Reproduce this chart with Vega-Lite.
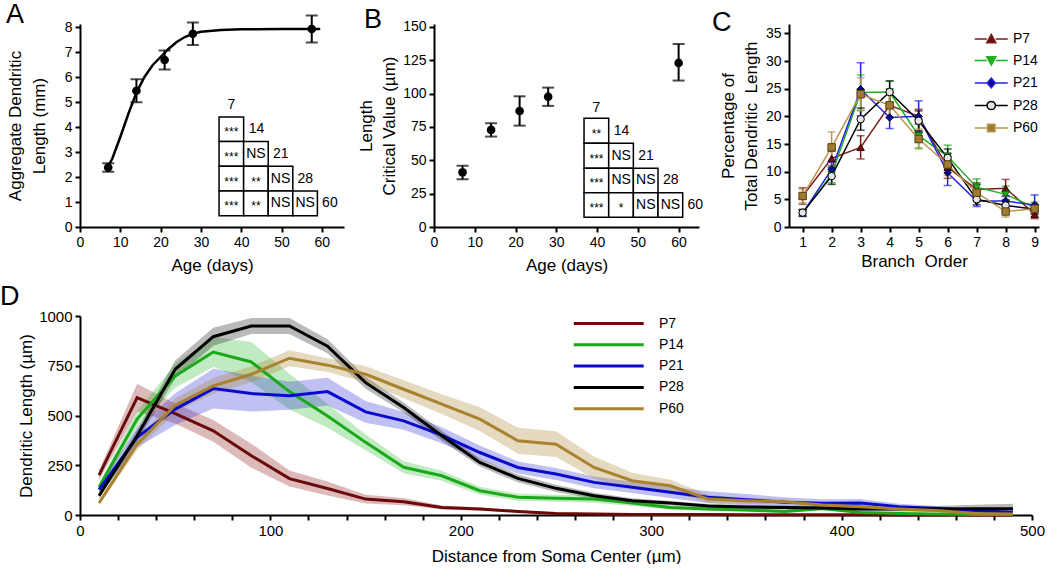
{
"$schema": "https://vega.github.io/schema/vega-lite/v6.json",
"background": "white",
"padding": {"left": 0, "top": 0, "right": 0, "bottom": 0},
"spacing": 10,
"config": {
  "font": "Liberation Sans",
  "view": {"stroke": null},
  "axis": {"domainColor": "#000", "domainWidth": 2, "tickColor": "#000", "tickWidth": 2, "tickSize": 5, "labelFontSize": 14, "labelColor": "#000", "labelFont": "Liberation Sans", "titleFont": "Liberation Sans", "titleFontSize": 17, "titleFontWeight": "normal", "titleColor": "#000", "grid": false, "labelPadding": 3, "titleLineHeight": 23, "labelOverlap": false, "labelFlush": false, "tickCount": 100, "format": "d"},
  "title": {"fontSize": 27, "fontWeight": "normal", "anchor": "start", "frame": "group", "font": "Liberation Sans", "color": "#000"},
  "legend": {"labelFont": "Liberation Sans", "labelFontSize": 14, "labelColor": "#000", "padding": 0, "title": null}
},
"vconcat": [
{
 "hconcat": [
 {
  "width": 264, "height": 203,
  "title": {"text": "A", "dx": -74, "offset": -14},
  "layer": [
   {"data": {"values": [
     {"x": 6.6, "y": 2.33}, {"x": 8, "y": 2.73}, {"x": 10, "y": 3.6}, {"x": 12, "y": 4.53}, {"x": 14, "y": 5.37},
     {"x": 16, "y": 6.0}, {"x": 18, "y": 6.47}, {"x": 20, "y": 6.8}, {"x": 22, "y": 7.13}, {"x": 24, "y": 7.4},
     {"x": 26, "y": 7.6}, {"x": 28, "y": 7.73}, {"x": 30, "y": 7.81}, {"x": 35, "y": 7.88}, {"x": 40, "y": 7.91},
     {"x": 50, "y": 7.92}, {"x": 59.6, "y": 7.92}]},
    "mark": {"type": "line", "color": "#000", "strokeWidth": 2.5},
    "encoding": {
      "x": {"field": "x", "type": "quantitative", "scale": {"domain": [0, 65.5], "nice": false}, "axis": {"values": [0, 10, 20, 30, 40, 50, 60], "format": "d", "tickCount": 100, "labelOverlap": false, "labelFlush": false, "title": "Age (days)", "titlePadding": 8}},
      "y": {"field": "y", "type": "quantitative", "scale": {"domain": [0, 8.12], "nice": false}, "axis": {"values": [0, 1, 2, 3, 4, 5, 6, 7, 8], "format": "d", "tickCount": 100, "labelOverlap": false, "labelFlush": false, "title": ["Aggregate Dendritic", "Length (mm)"], "titlePadding": 16, "titleLineHeight": 24}}
    }},
   {"data": {"values": [
     {"x": 7, "y": 2.38, "lo": 2.21, "hi": 2.55}, {"x": 14, "y": 5.45, "lo": 4.99, "hi": 5.91},
     {"x": 21, "y": 6.68, "lo": 6.3, "hi": 7.06}, {"x": 28, "y": 7.73, "lo": 7.28, "hi": 8.18},
     {"x": 57.5, "y": 7.92, "lo": 7.38, "hi": 8.46}]},
    "layer": [
     {"mark": {"type": "rule", "color": "#000", "strokeWidth": 2}, "encoding": {"x": {"field": "x", "type": "quantitative"}, "y": {"field": "lo", "type": "quantitative"}, "y2": {"field": "hi"}}},
     {"mark": {"type": "tick", "orient": "horizontal", "color": "#000", "size": 12, "thickness": 2}, "encoding": {"x": {"field": "x", "type": "quantitative"}, "y": {"field": "lo", "type": "quantitative"}}},
     {"mark": {"type": "tick", "orient": "horizontal", "color": "#000", "size": 12, "thickness": 2}, "encoding": {"x": {"field": "x", "type": "quantitative"}, "y": {"field": "hi", "type": "quantitative"}}},
     {"mark": {"type": "point", "filled": true, "color": "#000", "size": 75, "opacity": 1}, "encoding": {"x": {"field": "x", "type": "quantitative"}, "y": {"field": "y", "type": "quantitative"}}}
    ]},
   {"data": {"values": [
     {"x": 34.5, "x2": 40.6, "y": 3.42, "y2": 4.4},
     {"x": 34.5, "x2": 40.6, "y": 2.43, "y2": 3.42}, {"x": 40.6, "x2": 46.7, "y": 2.43, "y2": 3.42},
     {"x": 34.5, "x2": 40.6, "y": 1.44, "y2": 2.43}, {"x": 40.6, "x2": 46.7, "y": 1.44, "y2": 2.43}, {"x": 46.7, "x2": 52.8, "y": 1.44, "y2": 2.43},
     {"x": 34.5, "x2": 40.6, "y": 0.45, "y2": 1.44}, {"x": 40.6, "x2": 46.7, "y": 0.45, "y2": 1.44}, {"x": 46.7, "x2": 52.8, "y": 0.45, "y2": 1.44}, {"x": 52.8, "x2": 58.9, "y": 0.45, "y2": 1.44}]},
    "mark": {"type": "rect", "fill": "#fff", "stroke": "#000", "strokeWidth": 1.5},
    "encoding": {"x": {"field": "x", "type": "quantitative"}, "x2": {"field": "x2"}, "y": {"field": "y", "type": "quantitative"}, "y2": {"field": "y2"}}},
   {"data": {"values": [
     {"x": 37.55, "y": 3.91, "t": "***"},
     {"x": 37.55, "y": 2.925, "t": "***"}, {"x": 43.65, "y": 2.925, "t": "NS"},
     {"x": 37.55, "y": 1.935, "t": "***"}, {"x": 43.65, "y": 1.935, "t": "**"}, {"x": 49.75, "y": 1.935, "t": "NS"},
     {"x": 37.55, "y": 0.945, "t": "***"}, {"x": 43.65, "y": 0.945, "t": "**"}, {"x": 49.75, "y": 0.945, "t": "NS"}, {"x": 55.85, "y": 0.945, "t": "NS"},
     {"x": 37.55, "y": 4.87, "t": "7"}, {"x": 43.8, "y": 3.91, "t": "14"}, {"x": 49.8, "y": 2.925, "t": "21"}, {"x": 55.9, "y": 1.935, "t": "28"}, {"x": 62.0, "y": 0.945, "t": "60"}]},
    "layer": [
     {"transform": [{"filter": "indexof(datum.t, '*') < 0"}], "mark": {"type": "text", "fontSize": 14, "baseline": "middle", "align": "center", "color": "#000"},
      "encoding": {"x": {"field": "x", "type": "quantitative"}, "y": {"field": "y", "type": "quantitative"}, "text": {"field": "t"}}},
     {"transform": [{"filter": "indexof(datum.t, '*') >= 0"}], "mark": {"type": "text", "fontSize": 12, "baseline": "middle", "align": "center", "dy": 3, "color": "#000"},
      "encoding": {"x": {"field": "x", "type": "quantitative"}, "y": {"field": "y", "type": "quantitative"}, "text": {"field": "t"}}}
    ]}
  ]
 },
 {
  "width": 265, "height": 203,
  "title": {"text": "B", "dx": -70, "offset": -14},
  "layer": [
   {"data": {"values": [
     {"x": 7, "y": 41, "lo": 35.8, "hi": 46}, {"x": 14, "y": 72.8, "lo": 67.8, "hi": 77.8},
     {"x": 21, "y": 87, "lo": 76, "hi": 98}, {"x": 28, "y": 97.7, "lo": 90.8, "hi": 104.5},
     {"x": 60, "y": 123, "lo": 109.8, "hi": 137.2}]},
    "layer": [
     {"mark": {"type": "rule", "color": "#000", "strokeWidth": 2}, "encoding": {
       "x": {"field": "x", "type": "quantitative", "scale": {"domain": [0, 65], "nice": false}, "axis": {"values": [0, 10, 20, 30, 40, 50, 60], "format": "d", "tickCount": 100, "labelOverlap": false, "labelFlush": false, "title": "Age (days)", "titlePadding": 8}},
       "y": {"field": "lo", "type": "quantitative", "scale": {"domain": [0, 152.2], "nice": false}, "axis": {"values": [0, 25, 50, 75, 100, 125, 150], "format": "d", "tickCount": 100, "labelOverlap": false, "labelFlush": false, "title": ["Length", "Critical Value (µm)"], "titlePadding": 4}},
       "y2": {"field": "hi"}}},
     {"mark": {"type": "tick", "orient": "horizontal", "color": "#000", "size": 12, "thickness": 2}, "encoding": {"x": {"field": "x", "type": "quantitative"}, "y": {"field": "lo", "type": "quantitative"}}},
     {"mark": {"type": "tick", "orient": "horizontal", "color": "#000", "size": 12, "thickness": 2}, "encoding": {"x": {"field": "x", "type": "quantitative"}, "y": {"field": "hi", "type": "quantitative"}}},
     {"mark": {"type": "point", "filled": true, "color": "#000", "size": 75, "opacity": 1}, "encoding": {"x": {"field": "x", "type": "quantitative"}, "y": {"field": "y", "type": "quantitative"}}}
    ]},
   {"data": {"values": [
     {"x": 36.8, "x2": 42.85, "y": 62.75, "y2": 81.5},
     {"x": 36.8, "x2": 42.85, "y": 44, "y2": 62.75}, {"x": 42.85, "x2": 48.9, "y": 44, "y2": 62.75},
     {"x": 36.8, "x2": 42.85, "y": 25.75, "y2": 44}, {"x": 42.85, "x2": 48.9, "y": 25.75, "y2": 44}, {"x": 48.9, "x2": 54.95, "y": 25.75, "y2": 44},
     {"x": 36.8, "x2": 42.85, "y": 7.25, "y2": 25.75}, {"x": 42.85, "x2": 48.9, "y": 7.25, "y2": 25.75}, {"x": 48.9, "x2": 54.95, "y": 7.25, "y2": 25.75}, {"x": 54.95, "x2": 61.0, "y": 7.25, "y2": 25.75}]},
    "mark": {"type": "rect", "fill": "#fff", "stroke": "#000", "strokeWidth": 1.5},
    "encoding": {"x": {"field": "x", "type": "quantitative"}, "x2": {"field": "x2"}, "y": {"field": "y", "type": "quantitative"}, "y2": {"field": "y2"}}},
   {"data": {"values": [
     {"x": 39.85, "y": 72.1, "t": "**"},
     {"x": 39.85, "y": 53.4, "t": "***"}, {"x": 45.9, "y": 53.4, "t": "NS"},
     {"x": 39.85, "y": 34.9, "t": "***"}, {"x": 45.9, "y": 34.9, "t": "NS"}, {"x": 51.95, "y": 34.9, "t": "NS"},
     {"x": 39.85, "y": 16.5, "t": "***"}, {"x": 45.9, "y": 16.5, "t": "*"}, {"x": 51.95, "y": 16.5, "t": "NS"}, {"x": 58.0, "y": 16.5, "t": "NS"},
     {"x": 39.85, "y": 89, "t": "7"}, {"x": 46.0, "y": 72.1, "t": "14"}, {"x": 52.0, "y": 53.4, "t": "21"}, {"x": 58.1, "y": 34.9, "t": "28"}, {"x": 64.1, "y": 16.5, "t": "60"}]},
    "layer": [
     {"transform": [{"filter": "indexof(datum.t, '*') < 0"}], "mark": {"type": "text", "fontSize": 14, "baseline": "middle", "align": "center", "color": "#000"},
      "encoding": {"x": {"field": "x", "type": "quantitative"}, "y": {"field": "y", "type": "quantitative"}, "text": {"field": "t"}}},
     {"transform": [{"filter": "indexof(datum.t, '*') >= 0"}], "mark": {"type": "text", "fontSize": 12, "baseline": "middle", "align": "center", "dy": 3, "color": "#000"},
      "encoding": {"x": {"field": "x", "type": "quantitative"}, "y": {"field": "y", "type": "quantitative"}, "text": {"field": "t"}}}
    ]}
  ]
 },
 {
  "width": 250, "height": 203,
  "title": {"text": "C", "dx": -77, "offset": -13},
  "data": {"values": [
   {"s": "P7", "b": 1, "v": 5.6, "lo": 4.1, "hi": 7.1}, {"s": "P7", "b": 2, "v": 12.4, "lo": 11.1, "hi": 13.7}, {"s": "P7", "b": 3, "v": 14.4, "lo": 12.3, "hi": 16.5}, {"s": "P7", "b": 4, "v": 22.0, "lo": 19.8, "hi": 24.2}, {"s": "P7", "b": 5, "v": 20.0, "lo": 18.6, "hi": 21.3}, {"s": "P7", "b": 6, "v": 10.8, "lo": 8.8, "hi": 12.8}, {"s": "P7", "b": 7, "v": 6.8, "lo": 5.6, "hi": 8.0}, {"s": "P7", "b": 8, "v": 7.0, "lo": 5.5, "hi": 8.6}, {"s": "P7", "b": 9, "v": 2.3, "lo": 1.5, "hi": 3.1},
   {"s": "P14", "b": 1, "v": 2.5, "lo": 2.0, "hi": 3.0}, {"s": "P14", "b": 2, "v": 9.5, "lo": 8.0, "hi": 11.0}, {"s": "P14", "b": 3, "v": 24.3, "lo": 21.1, "hi": 27.5}, {"s": "P14", "b": 4, "v": 24.4, "lo": 22.4, "hi": 26.4}, {"s": "P14", "b": 5, "v": 16.5, "lo": 14.3, "hi": 18.7}, {"s": "P14", "b": 6, "v": 12.8, "lo": 10.8, "hi": 14.8}, {"s": "P14", "b": 7, "v": 7.2, "lo": 5.7, "hi": 8.7}, {"s": "P14", "b": 8, "v": 5.9, "lo": 4.4, "hi": 7.4}, {"s": "P14", "b": 9, "v": 3.5, "lo": 2.5, "hi": 4.5},
   {"s": "P21", "b": 1, "v": 2.5, "lo": 1.9, "hi": 3.1}, {"s": "P21", "b": 2, "v": 10.4, "lo": 9.1, "hi": 11.7}, {"s": "P21", "b": 3, "v": 24.9, "lo": 20.1, "hi": 29.7}, {"s": "P21", "b": 4, "v": 19.8, "lo": 17.8, "hi": 21.8}, {"s": "P21", "b": 5, "v": 20.0, "lo": 17.2, "hi": 22.8}, {"s": "P21", "b": 6, "v": 9.8, "lo": 7.5, "hi": 12.1}, {"s": "P21", "b": 7, "v": 4.7, "lo": 3.7, "hi": 5.7}, {"s": "P21", "b": 8, "v": 4.7, "lo": 3.7, "hi": 5.7}, {"s": "P21", "b": 9, "v": 4.0, "lo": 2.3, "hi": 5.8},
   {"s": "P28", "b": 1, "v": 2.6, "lo": 2.0, "hi": 3.2}, {"s": "P28", "b": 2, "v": 9.2, "lo": 7.7, "hi": 10.7}, {"s": "P28", "b": 3, "v": 19.5, "lo": 17.5, "hi": 21.5}, {"s": "P28", "b": 4, "v": 24.4, "lo": 22.4, "hi": 26.4}, {"s": "P28", "b": 5, "v": 19.2, "lo": 17.4, "hi": 21.0}, {"s": "P28", "b": 6, "v": 12.5, "lo": 10.9, "hi": 14.1}, {"s": "P28", "b": 7, "v": 5.0, "lo": 4.0, "hi": 6.0}, {"s": "P28", "b": 8, "v": 3.9, "lo": 2.9, "hi": 4.9}, {"s": "P28", "b": 9, "v": 3.2, "lo": 2.4, "hi": 4.0},
   {"s": "P60", "b": 1, "v": 5.6, "lo": 4.4, "hi": 6.8}, {"s": "P60", "b": 2, "v": 14.4, "lo": 11.6, "hi": 17.2}, {"s": "P60", "b": 3, "v": 24.0, "lo": 21.0, "hi": 27.0}, {"s": "P60", "b": 4, "v": 22.0, "lo": 19.7, "hi": 24.3}, {"s": "P60", "b": 5, "v": 15.9, "lo": 14.1, "hi": 17.7}, {"s": "P60", "b": 6, "v": 11.3, "lo": 9.3, "hi": 13.3}, {"s": "P60", "b": 7, "v": 6.2, "lo": 4.8, "hi": 7.6}, {"s": "P60", "b": 8, "v": 2.8, "lo": 1.8, "hi": 3.8}, {"s": "P60", "b": 9, "v": 3.3, "lo": 2.5, "hi": 4.1}
  ]},
  "resolve": {"scale": {"stroke": "independent", "fill": "independent", "shape": "independent"}},
  "layer": [
   {"mark": {"type": "line", "strokeWidth": 1.5},
    "encoding": {
      "x": {"field": "b", "type": "quantitative", "scale": {"domain": [0.53, 9.15], "nice": false}, "axis": {"values": [1, 2, 3, 4, 5, 6, 7, 8, 9], "format": "d", "tickCount": 100, "labelOverlap": false, "labelFlush": false, "title": "Branch\u00a0 Order", "titlePadding": 4}},
      "y": {"field": "v", "type": "quantitative", "scale": {"domain": [0, 36.7], "nice": false}, "axis": {"values": [0, 5, 10, 15, 20, 25, 30, 35], "format": "d", "tickCount": 100, "labelOverlap": false, "labelFlush": false, "title": ["Percentage of", "Total Dendritic\u00a0 Length"], "titlePadding": 5}},
      "stroke": {"field": "s", "type": "nominal", "scale": {"domain": ["P7", "P14", "P21", "P28", "P60"], "range": ["#7B1C1C", "#1FAF1F", "#2323E6", "#000000", "#B8964E"]}, "legend": null}
    }},
   {"mark": {"type": "rule", "strokeWidth": 1.5},
    "encoding": {"x": {"field": "b", "type": "quantitative"}, "y": {"field": "lo", "type": "quantitative"}, "y2": {"field": "hi"},
      "stroke": {"field": "s", "type": "nominal", "scale": {"domain": ["P7", "P14", "P21", "P28", "P60"], "range": ["#7B1C1C", "#1FAF1F", "#2323E6", "#000000", "#B8964E"]}, "legend": null}}},
   {"mark": {"type": "tick", "orient": "horizontal", "size": 8, "thickness": 1.5},
    "encoding": {"x": {"field": "b", "type": "quantitative"}, "y": {"field": "lo", "type": "quantitative"},
      "color": {"field": "s", "type": "nominal", "scale": {"domain": ["P7", "P14", "P21", "P28", "P60"], "range": ["#7B1C1C", "#1FAF1F", "#2323E6", "#000000", "#B8964E"]}, "legend": null}}},
   {"mark": {"type": "tick", "orient": "horizontal", "size": 8, "thickness": 1.5},
    "encoding": {"x": {"field": "b", "type": "quantitative"}, "y": {"field": "hi", "type": "quantitative"},
      "color": {"field": "s", "type": "nominal", "scale": {"domain": ["P7", "P14", "P21", "P28", "P60"], "range": ["#7B1C1C", "#1FAF1F", "#2323E6", "#000000", "#B8964E"]}, "legend": null}}},
   {"mark": {"type": "point", "filled": true, "size": 55, "strokeWidth": 1, "opacity": 1},
    "encoding": {"x": {"field": "b", "type": "quantitative"}, "y": {"field": "v", "type": "quantitative"},
      "shape": {"field": "s", "type": "nominal", "scale": {"domain": ["P7", "P14", "P21", "P28", "P60"], "range": ["triangle-up", "triangle-down", "diamond", "circle", "square"]}, "legend": null},
      "fill": {"field": "s", "type": "nominal", "scale": {"domain": ["P7", "P14", "P21", "P28", "P60"], "range": ["#6B0E0E", "#1FAF1F", "#0A0A8C", "#E4E4E4", "#A07A32"]}, "legend": null},
      "stroke": {"field": "s", "type": "nominal", "scale": {"domain": ["P7", "P14", "P21", "P28", "P60"], "range": ["#3D0000", "#0D600D", "#000050", "#000000", "#5A4010"]}, "legend": null}}},
   {"transform": [{"filter": "datum.b == 1"}],
    "mark": {"type": "point", "filled": true, "size": 55, "strokeWidth": 1.5, "opacity": 0},
    "encoding": {"x": {"field": "b", "type": "quantitative"}, "y": {"field": "v", "type": "quantitative"},
      "shape": {"field": "s", "type": "nominal", "scale": {"domain": ["P7", "P14", "P21", "P28", "P60"], "range": [
        "M-1,0H0.45M1.55,0H3M1,-0.55L1.55,0.45L0.45,0.45Z",
        "M-1,0H0.45M1.55,0H3M1,0.55L1.55,-0.45L0.45,-0.45Z",
        "M-1,0H0.5M1.5,0H3M1,-0.6L1.5,0L1,0.6L0.5,0Z",
        "M-1,0H0.5M1.5,0H3M1.5,0A0.5,0.5,0,1,1,0.5,0A0.5,0.5,0,1,1,1.5,0Z",
        "M-1,0H0.55M1.45,0H3M0.55,-0.45H1.45V0.45H0.55Z"]},
        "legend": {"orient": "none", "legendX": 185, "legendY": 6, "symbolSize": 272, "symbolOpacity": 1, "symbolStrokeWidth": 1.5, "labelOffset": 21, "rowPadding": 5.5, "labelFontSize": 14}},
      "fill": {"field": "s", "type": "nominal", "scale": {"domain": ["P7", "P14", "P21", "P28", "P60"], "range": ["#6B0E0E", "#1FAF1F", "#0A0A8C", "#E4E4E4", "#A07A32"]},
        "legend": {"orient": "none", "legendX": 185, "legendY": 6, "symbolSize": 272, "symbolOpacity": 1, "symbolStrokeWidth": 1.5, "labelOffset": 21, "rowPadding": 5.5, "labelFontSize": 14}},
      "stroke": {"field": "s", "type": "nominal", "scale": {"domain": ["P7", "P14", "P21", "P28", "P60"], "range": ["#7B1C1C", "#1FAF1F", "#2323E6", "#000000", "#B8964E"]},
        "legend": {"orient": "none", "legendX": 185, "legendY": 6, "symbolSize": 272, "symbolOpacity": 1, "symbolStrokeWidth": 1.5, "labelOffset": 21, "rowPadding": 5.5, "labelFontSize": 14}}}}
  ]
 }
 ],
 "spacing": 90,
 "bounds": "flush"
},
{
   "width": 952, "height": 199,
   "title": {"text": "D", "dx": -80, "offset": -2},
   "data": {"values": [
    {"s":"P7","x":10,"m":200,"lo":175,"hi":225},{"s":"P7","x":30,"m":590,"lo":520,"hi":660},{"s":"P7","x":50,"m":510,"lo":460,"hi":560},{"s":"P7","x":70,"m":423,"lo":368,"hi":478},{"s":"P7","x":90,"m":298,"lo":238,"hi":358},{"s":"P7","x":110,"m":183,"lo":143,"hi":223},{"s":"P7","x":130,"m":133,"lo":98,"hi":168},{"s":"P7","x":150,"m":80,"lo":58,"hi":102},{"s":"P7","x":170,"m":67,"lo":49,"hi":85},{"s":"P7","x":190,"m":38,"lo":28,"hi":48},{"s":"P7","x":210,"m":30,"lo":22,"hi":38},{"s":"P7","x":230,"m":18,"lo":12,"hi":24},{"s":"P7","x":250,"m":8,"lo":4,"hi":12},{"s":"P7","x":270,"m":5,"lo":2,"hi":8},{"s":"P7","x":290,"m":3,"lo":1,"hi":5},{"s":"P7","x":310,"m":2,"lo":1,"hi":3},{"s":"P7","x":330,"m":2,"lo":1,"hi":3},{"s":"P7","x":350,"m":1,"lo":0,"hi":2},{"s":"P7","x":370,"m":1,"lo":0,"hi":2},{"s":"P7","x":390,"m":1,"lo":0,"hi":2},{"s":"P7","x":410,"m":1,"lo":0,"hi":2},{"s":"P7","x":430,"m":0,"lo":0,"hi":1},{"s":"P7","x":450,"m":0,"lo":0,"hi":1},{"s":"P7","x":470,"m":0,"lo":0,"hi":1},{"s":"P7","x":490,"m":0,"lo":0,"hi":1},
    {"s":"P14","x":10,"m":139,"lo":119,"hi":159},{"s":"P14","x":30,"m":482,"lo":442,"hi":522},{"s":"P14","x":50,"m":699,"lo":639,"hi":759},{"s":"P14","x":70,"m":819,"lo":744,"hi":894},{"s":"P14","x":90,"m":769,"lo":669,"hi":869},{"s":"P14","x":110,"m":620,"lo":530,"hi":710},{"s":"P14","x":130,"m":498,"lo":438,"hi":558},{"s":"P14","x":150,"m":365,"lo":325,"hi":405},{"s":"P14","x":170,"m":240,"lo":210,"hi":270},{"s":"P14","x":190,"m":197,"lo":172,"hi":222},{"s":"P14","x":210,"m":122,"lo":102,"hi":142},{"s":"P14","x":230,"m":89,"lo":71,"hi":107},{"s":"P14","x":250,"m":84,"lo":66,"hi":102},{"s":"P14","x":270,"m":80,"lo":62,"hi":98},{"s":"P14","x":290,"m":60,"lo":45,"hi":75},{"s":"P14","x":310,"m":38,"lo":26,"hi":50},{"s":"P14","x":330,"m":30,"lo":20,"hi":40},{"s":"P14","x":350,"m":25,"lo":15,"hi":35},{"s":"P14","x":370,"m":18,"lo":10,"hi":26},{"s":"P14","x":390,"m":33,"lo":23,"hi":43},{"s":"P14","x":410,"m":13,"lo":7,"hi":19},{"s":"P14","x":430,"m":8,"lo":3,"hi":13},{"s":"P14","x":450,"m":5,"lo":1,"hi":9},{"s":"P14","x":470,"m":3,"lo":0,"hi":6},{"s":"P14","x":490,"m":2,"lo":0,"hi":4},
    {"s":"P21","x":10,"m":127,"lo":107,"hi":147},{"s":"P21","x":30,"m":390,"lo":340,"hi":440},{"s":"P21","x":50,"m":532,"lo":452,"hi":612},{"s":"P21","x":70,"m":635,"lo":535,"hi":735},{"s":"P21","x":90,"m":610,"lo":520,"hi":700},{"s":"P21","x":110,"m":599,"lo":529,"hi":669},{"s":"P21","x":130,"m":620,"lo":550,"hi":690},{"s":"P21","x":150,"m":518,"lo":463,"hi":573},{"s":"P21","x":170,"m":473,"lo":428,"hi":518},{"s":"P21","x":190,"m":401,"lo":361,"hi":441},{"s":"P21","x":210,"m":314,"lo":279,"hi":349},{"s":"P21","x":230,"m":239,"lo":209,"hi":269},{"s":"P21","x":250,"m":206,"lo":176,"hi":236},{"s":"P21","x":270,"m":164,"lo":134,"hi":194},{"s":"P21","x":290,"m":139,"lo":111,"hi":167},{"s":"P21","x":310,"m":114,"lo":86,"hi":142},{"s":"P21","x":330,"m":89,"lo":59,"hi":119},{"s":"P21","x":350,"m":77,"lo":49,"hi":105},{"s":"P21","x":370,"m":64,"lo":39,"hi":89},{"s":"P21","x":390,"m":59,"lo":39,"hi":79},{"s":"P21","x":410,"m":60,"lo":40,"hi":80},{"s":"P21","x":430,"m":42,"lo":27,"hi":57},{"s":"P21","x":450,"m":33,"lo":21,"hi":45},{"s":"P21","x":470,"m":22,"lo":12,"hi":32},{"s":"P21","x":490,"m":13,"lo":3,"hi":23},
    {"s":"P28","x":10,"m":97,"lo":82,"hi":112},{"s":"P28","x":30,"m":398,"lo":368,"hi":428},{"s":"P28","x":50,"m":732,"lo":687,"hi":777},{"s":"P28","x":70,"m":896,"lo":851,"hi":941},{"s":"P28","x":90,"m":950,"lo":910,"hi":990},{"s":"P28","x":110,"m":950,"lo":910,"hi":990},{"s":"P28","x":130,"m":848,"lo":813,"hi":883},{"s":"P28","x":150,"m":665,"lo":635,"hi":695},{"s":"P28","x":170,"m":540,"lo":515,"hi":565},{"s":"P28","x":190,"m":398,"lo":373,"hi":423},{"s":"P28","x":210,"m":264,"lo":244,"hi":284},{"s":"P28","x":230,"m":184,"lo":164,"hi":204},{"s":"P28","x":250,"m":134,"lo":116,"hi":152},{"s":"P28","x":270,"m":97,"lo":82,"hi":112},{"s":"P28","x":290,"m":72,"lo":60,"hi":84},{"s":"P28","x":310,"m":60,"lo":50,"hi":70},{"s":"P28","x":330,"m":45,"lo":35,"hi":55},{"s":"P28","x":350,"m":40,"lo":30,"hi":50},{"s":"P28","x":370,"m":38,"lo":28,"hi":48},{"s":"P28","x":390,"m":35,"lo":25,"hi":45},{"s":"P28","x":410,"m":30,"lo":20,"hi":40},{"s":"P28","x":430,"m":30,"lo":18,"hi":42},{"s":"P28","x":450,"m":30,"lo":15,"hi":45},{"s":"P28","x":470,"m":32,"lo":12,"hi":52},{"s":"P28","x":490,"m":32,"lo":7,"hi":57},
    {"s":"P60","x":10,"m":60,"lo":50,"hi":70},{"s":"P60","x":30,"m":356,"lo":326,"hi":386},{"s":"P60","x":50,"m":552,"lo":517,"hi":587},{"s":"P60","x":70,"m":649,"lo":609,"hi":689},{"s":"P60","x":90,"m":707,"lo":667,"hi":747},{"s":"P60","x":110,"m":788,"lo":748,"hi":828},{"s":"P60","x":130,"m":753,"lo":718,"hi":788},{"s":"P60","x":150,"m":707,"lo":667,"hi":747},{"s":"P60","x":170,"m":632,"lo":587,"hi":677},{"s":"P60","x":190,"m":557,"lo":507,"hi":607},{"s":"P60","x":210,"m":482,"lo":422,"hi":542},{"s":"P60","x":230,"m":373,"lo":308,"hi":438},{"s":"P60","x":250,"m":356,"lo":291,"hi":421},{"s":"P60","x":270,"m":239,"lo":184,"hi":294},{"s":"P60","x":290,"m":172,"lo":132,"hi":212},{"s":"P60","x":310,"m":147,"lo":117,"hi":177},{"s":"P60","x":330,"m":80,"lo":60,"hi":100},{"s":"P60","x":350,"m":72,"lo":57,"hi":87},{"s":"P60","x":370,"m":67,"lo":55,"hi":79},{"s":"P60","x":390,"m":50,"lo":40,"hi":60},{"s":"P60","x":410,"m":42,"lo":32,"hi":52},{"s":"P60","x":430,"m":30,"lo":22,"hi":38},{"s":"P60","x":450,"m":22,"lo":14,"hi":30},{"s":"P60","x":470,"m":8,"lo":3,"hi":13},{"s":"P60","x":490,"m":5,"lo":0,"hi":10}
   ]},
   "resolve": {"scale": {"fill": "independent", "stroke": "independent"}},
   "layer": [
    {"mark": {"type": "area", "fillOpacity": 0.3},
     "encoding": {
       "x": {"field": "x", "type": "quantitative", "scale": {"domain": [0, 500], "nice": false}, "axis": {"values": [0, 20, 40, 60, 80, 100, 120, 140, 160, 180, 200, 220, 240, 260, 280, 300, 320, 340, 360, 380, 400, 420, 440, 460, 480, 500], "format": "d", "tickCount": 100, "labelOverlap": false, "labelFlush": false, "labelExpr": "datum.value % 100 == 0 ? datum.label : ''", "labelFontSize": 15, "title": "Distance from Soma Center (µm)", "titlePadding": 10}},
       "y": {"field": "lo", "type": "quantitative", "scale": {"domain": [0, 1000], "nice": false}, "axis": {"values": [0, 250, 500, 750, 1000], "tickCount": 100, "labelOverlap": false, "labelFlush": false, "format": "d", "labelFontSize": 15, "title": "Dendritic Length (µm)", "titlePadding": 3}},
       "y2": {"field": "hi"},
       "fill": {"field": "s", "type": "nominal", "scale": {"domain": ["P7", "P14", "P21", "P28", "P60"], "range": ["#8E1A1A", "#2DB82D", "#2F2FD6", "#1A1A1A", "#A8822E"]}, "legend": null}
     }},
    {"mark": {"type": "line", "strokeWidth": 3},
     "encoding": {
       "x": {"field": "x", "type": "quantitative"},
       "y": {"field": "m", "type": "quantitative"},
       "stroke": {"field": "s", "type": "nominal", "scale": {"domain": ["P7", "P14", "P21", "P28", "P60"], "range": ["#6A0A0A", "#1BA81B", "#0A0ACC", "#000000", "#A8822E"]},
         "legend": {"orient": "none", "legendX": 492, "legendY": -3, "symbolType": "M-1,0H7", "symbolSize": 306, "symbolStrokeWidth": 3, "labelOffset": 66, "rowPadding": 3.3, "labelFontSize": 14}}
     }}
   ]
}
]
}
